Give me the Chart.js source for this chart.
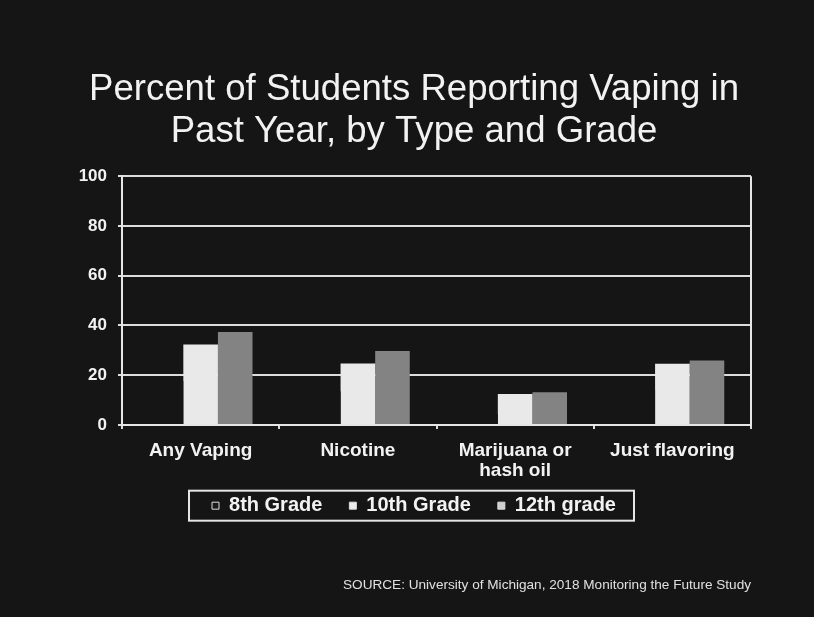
<!DOCTYPE html>
<html>
<head>
<meta charset="utf-8">
<script src="https://cdn.jsdelivr.net/npm/chart.js@4"></script>
<style>
  html, body { margin: 0; padding: 0; background: #151515; }
  #wrap { width: 814px; height: 617px; position: relative; }
</style>
</head>
<body>
<div id="wrap"><canvas id="c" width="814" height="617"></canvas></div>
<script>
const categories = ["Any Vaping", "Nicotine", ["Marijuana or", "hash oil"], "Just flavoring"];
const grade8 = [17.6, 13.5, 4.4, 14.1];
const grade10 = [32.3, 24.7, 12.4, 24.6];
const grade12 = [37.3, 29.7, 13.1, 25.9];
const seriesNames = ["8th Grade", "10th Grade", "12th grade"];
const yTicks = [0, 20, 40, 60, 80, 100];
const titleLines = ["Percent of Students Reporting Vaping in", "Past Year, by Type and Grade"];
const sourceText = "SOURCE: University of Michigan, 2018 Monitoring the Future Study";

const BG = "#151515";
const FG = "#f2f2f2";
const LEGEND_SHIFT = 24;

const bgPlugin = {
  id: "bg",
  beforeDraw(chart) {
    const ctx = chart.ctx;
    ctx.save();
    ctx.fillStyle = BG;
    ctx.fillRect(0, 0, chart.width, chart.height);
    ctx.restore();
  }
};

const framePlugin = {
  id: "frame",
  afterLayout(chart) {
    const lg = chart.legend;
    if (lg) { lg.top -= LEGEND_SHIFT; lg.bottom -= LEGEND_SHIFT; }
  },
  afterDatasetsDraw(chart) {
    const a = chart.chartArea;
    const ctx = chart.ctx;
    ctx.save();
    ctx.strokeStyle = "#e6e6e6";
    ctx.lineWidth = 2;
    ctx.beginPath();
    ctx.moveTo(a.right, a.top);
    ctx.lineTo(a.right, a.bottom);
    ctx.stroke();
    ctx.restore();
  },
  afterDraw(chart) {
    const lg = chart.legend;
    if (!lg || !lg.legendHitBoxes || !lg.legendHitBoxes.length) return;
    let x0 = Infinity, x1 = -Infinity, y0 = Infinity, y1 = -Infinity;
    lg.legendHitBoxes.forEach(b => {
      x0 = Math.min(x0, b.left); x1 = Math.max(x1, b.left + b.width);
      y0 = Math.min(y0, b.top); y1 = Math.max(y1, b.top + b.height);
    });
    const ctx = chart.ctx;
    ctx.save();
    ctx.strokeStyle = "#e6e6e6";
    ctx.lineWidth = 2;
    const cy = (y0 + y1) / 2;
    ctx.strokeRect(x0 - 23, cy - 15, (x1 - x0) + 41, 30);
    ctx.restore();
  }
};

new Chart(document.getElementById("c"), {
  type: "bar",
  data: {
    labels: categories,
    datasets: [
      { label: seriesNames[0], data: grade8, backgroundColor: BG, borderWidth: 0 },
      { label: seriesNames[1], data: grade10, backgroundColor: "#e9e9e9", borderWidth: 0 },
      { label: seriesNames[2], data: grade12, backgroundColor: "#838383", borderWidth: 0 }
    ]
  },
  options: {
    responsive: false,
    animation: false,
    devicePixelRatio: 1,
    layout: { padding: { left: 77, right: 63, top: 0, bottom: 0 } },
    datasets: { bar: { categoryPercentage: 0.66, barPercentage: 1.0 } },
    plugins: {
      title: {
        display: true,
        text: titleLines,
        color: FG,
        font: { family: "Liberation Sans", size: 36.6, weight: "normal", lineHeight: 1.15 },
        padding: { top: 69, bottom: 23 }
      },
      subtitle: {
        display: true,
        position: "bottom",
        align: "end",
        text: sourceText,
        color: "#e0e0e0",
        font: { family: "Liberation Sans", size: 13.6, weight: "normal" },
        padding: { top: 27, bottom: 24 }
      },
      legend: {
        position: "bottom",
        labels: {
          color: FG,
          font: { family: "Liberation Sans", size: 20, weight: "bold" },
          boxWidth: 7,
          boxHeight: 7,
          padding: 27,
          generateLabels(chart) {
            const fills = ["#1a1a1a", "#ececec", "#d0d0d0"];
            return chart.data.datasets.map((ds, i) => ({
              text: ds.label,
              fillStyle: fills[i],
              strokeStyle: "#dddddd",
              lineWidth: 1,
              fontColor: FG,
              datasetIndex: i,
              hidden: false
            }));
          }
        }
      },
      tooltip: { enabled: false }
    },
    scales: {
      x: {
        grid: { display: true, drawOnChartArea: false, drawTicks: true, tickLength: 4, color: "#dcdcdc", lineWidth: 2 },
        border: { display: true, color: "#e6e6e6", width: 2 },
        ticks: {
          color: FG,
          font: { family: "Liberation Sans", size: 19, weight: "bold", lineHeight: 1.1 },
          padding: 11,
          maxRotation: 0,
          autoSkip: false
        }
      },
      y: {
        min: 0,
        max: 100,
        afterBuildTicks(axis) { axis.ticks = yTicks.map(v => ({ value: v })); },
        afterFit(axis) { axis.width = 45; },
        grid: { color: "#dcdcdc", lineWidth: 2, tickLength: 4 },
        border: { display: true, color: "#e6e6e6", width: 2 },
        ticks: {
          color: FG,
          font: { family: "Liberation Sans", size: 17, weight: "bold" },
          padding: 11
        }
      }
    }
  },
  plugins: [bgPlugin, framePlugin]
});
</script>
</body>
</html>
